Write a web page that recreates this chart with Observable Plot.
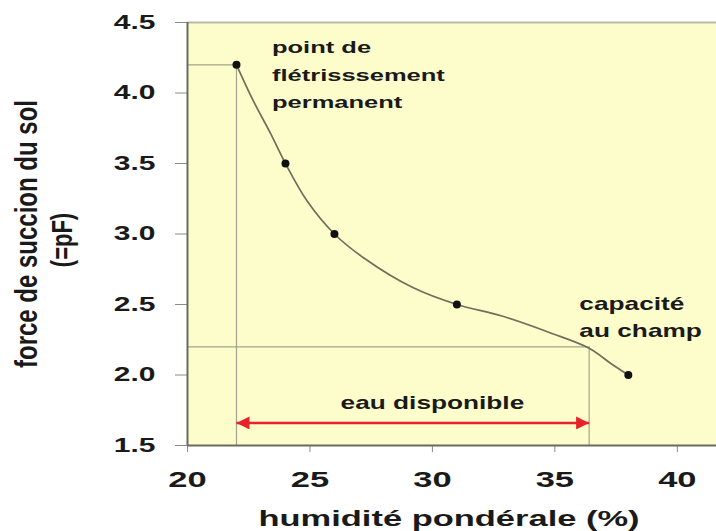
<!DOCTYPE html>
<html><head><meta charset="utf-8">
<script src="https://cdn.jsdelivr.net/npm/d3@7"></script>
<script src="https://cdn.jsdelivr.net/npm/@observablehq/plot@0.6"></script>
<style>body{margin:0;background:#fff}</style>
</head><body><div id="chart"></div>
<script>
// measured points
const humidite = [22, 24, 26, 31, 38];
const pF = [4.2, 3.5, 3.0, 2.5, 2.0];
// the drawn curve
const curveX = [22, 22.7, 23.4, 24, 24.9, 26, 27.2, 29.2, 31, 32.8, 34.8, 36.4, 37.3, 38];
const curveY = [4.2, 3.94, 3.71, 3.5, 3.23, 3.0, 2.83, 2.62, 2.5, 2.42, 2.30, 2.19, 2.08, 2.0];
const xTicks = [20, 25, 30, 35, 40];
const yTicks = [1.5, 2.0, 2.5, 3.0, 3.5, 4.0, 4.5];
// reference levels
const pfp = {x: 22, y: 4.2};    // point de flétrissement permanent
const cc = {x: 36.4, y: 2.2};   // capacité au champ
const dispo = [{x1: 22, x2: 36.4, y: 1.66}];

const points = humidite.map((x, i) => ({x, y: pF[i]}));
const curve = curveX.map((x, i) => ({x, y: curveY[i]}));

const refStroke = "#a3a38c";
const chart = Plot.plot({
  width: 716, height: 531,
  marginLeft: 187, marginTop: 22, marginBottom: 86, marginRight: 0,
  x: {domain: [20, 41.6]},
  y: {domain: [1.5, 4.5]},
  style: {fontFamily: "'Liberation Sans', Arial, sans-serif", fontWeight: "bold", background: "white", overflow: "visible"},
  marks: [
    Plot.frame({fill: "#fdfdcb", stroke: null}),
    Plot.ruleY([4.5], {stroke: "#b9b9aa", strokeWidth: 2}),
    Plot.ruleY([pfp], {y: "y", x1: 20, x2: "x", stroke: refStroke, strokeWidth: 1.2}),
    Plot.ruleX([pfp], {x: "x", y1: 1.5, y2: "y", stroke: refStroke, strokeWidth: 1.2}),
    Plot.ruleY([cc], {y: "y", x1: 20, x2: "x", stroke: refStroke, strokeWidth: 1.2}),
    Plot.ruleX([cc], {x: "x", y1: 1.5, y2: "y", stroke: refStroke, strokeWidth: 1.2}),
    Plot.line(curve, {x: "x", y: "y", curve: "catmull-rom", stroke: "#6f6f5c", strokeWidth: 1.7}),
    Plot.dot(points, {x: "x", y: "y", r: 4, fill: "#111", stroke: null}),
    Plot.link(dispo, {x1: "x1", x2: "x2", y1: "y", y2: "y", stroke: "#e8222a", strokeWidth: 2.5}),
    Plot.text(["eau disponible"], {x: 30, y: 1.8, fontSize: 17.5, fill: "#1a1a1a"}),
    Plot.text(["point de\nflétrisssement\npermanent"], {x: 23.45, y: 4.15, textAnchor: "start", lineHeight: 1.6, fontSize: 17, fill: "#1a1a1a"}),
    Plot.text(["capacité\nau champ"], {x: 36.0, y: 2.425, textAnchor: "start", lineHeight: 1.55, fontSize: 17.5, fill: "#1a1a1a"}),
    Plot.axisY({ticks: yTicks, tickFormat: d3.format(".1f"), tickSize: 12, tickPadding: 20, fontSize: 20, color: "#8a8a8a", label: null}),
    Plot.axisX({ticks: xTicks, tickSize: 7, tickPadding: 18, fontSize: 23, color: "#8a8a8a", label: null}),
    Plot.ruleX([20], {stroke: "#6a6a60", strokeWidth: 2}),
    Plot.ruleY([1.5], {stroke: "#6a6a60", strokeWidth: 2}),
    Plot.text(["force de succion du sol"], {frameAnchor: "left", textAnchor: "middle", lineAnchor: "middle", dx: -161, rotate: -90, fontSize: 24, fill: "#1a1a1a"}),
    Plot.text(["(=pF)"], {frameAnchor: "left", textAnchor: "middle", lineAnchor: "middle", dx: -125, dy: 6, rotate: -90, fontSize: 22, fill: "#1a1a1a"}),
    Plot.text(["humidité pondérale (%)"], {frameAnchor: "bottom", textAnchor: "middle", lineAnchor: "middle", dy: 73, dx: -3, fontSize: 23, fill: "#1a1a1a"})
  ]
});

// arrowheads on the "eau disponible" link
const svg = d3.select(chart);
const defs = svg.insert("defs", ":first-child");
defs.append("marker").attr("id", "ah").attr("viewBox", "0 0 10 10")
  .attr("refX", 10).attr("refY", 5).attr("markerUnits", "userSpaceOnUse")
  .attr("markerWidth", 20).attr("markerHeight", 13).attr("orient", "auto-start-reverse")
  .append("path").attr("d", "M0,0L10,5L0,10Z").attr("fill", "#e8222a");
svg.selectAll('g[aria-label="link"] path').attr("marker-start", "url(#ah)").attr("marker-end", "url(#ah)");

// horizontal stretch of lettering as in the reference
svg.selectAll("text").each(function () {
  const t = d3.select(this);
  let tr = t.attr("transform") || "";
  if (!tr) {
    const x = +t.attr("x") || 0, y = +t.attr("y") || 0;
    t.attr("x", null).attr("y", null);
    tr = `translate(${x},${y})`;
  }
  const rotated = tr.includes("rotate");
  t.attr("transform", tr + (rotated ? " scale(1,1.3)" : " scale(1.5,1)"));
  t.attr("fill", "#1a1a1a");
});
document.getElementById("chart").append(chart);
</script>
</body></html>
